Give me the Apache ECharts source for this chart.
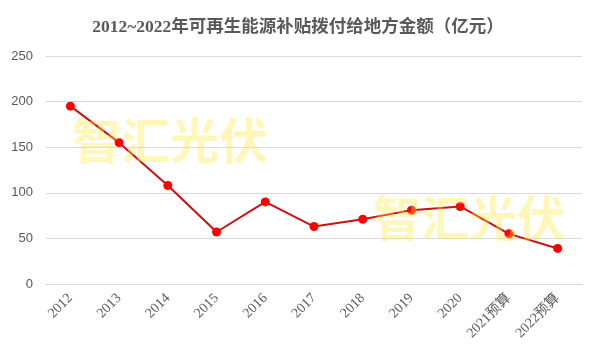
<!DOCTYPE html>
<html>
<head>
<meta charset="utf-8">
<script src="https://cdn.jsdelivr.net/npm/echarts@6/dist/echarts.min.js"></script>
<style>html,body{margin:0;padding:0;background:#fff;}#c{width:596px;height:362px;}</style>
</head>
<body>
<div id="c"></div>
<script>
var categories = ['2012','2013','2014','2015','2016','2017','2018','2019','2020','2021预算','2022预算'];
var values = [195, 155, 108, 57, 90, 63, 71, 81, 85, 55, 39];
var yTicks = [0, 50, 100, 150, 200, 250];
var titleText = '2012~2022年可再生能源补贴拨付给地方金额（亿元）';
var watermark = '智汇光伏';

var chart = echarts.init(document.getElementById('c'), null, {renderer: 'canvas'});
chart.setOption({
  backgroundColor: '#ffffff',
  animation: false,
  title: {
    text: titleText,
    left: 'center',
    top: 14,
    textStyle: {
      fontFamily: '"Liberation Serif", "Noto Sans CJK SC", serif',
      fontSize: 17.5,
      fontWeight: 'bold',
      color: '#595959'
    }
  },
  grid: {left: 46, right: 14, top: 56, bottom: 78, containLabel: false},
  xAxis: {
    type: 'category',
    data: categories,
    boundaryGap: true,
    axisLine: {show: true, lineStyle: {color: '#d9d9d9'}},
    axisTick: {show: false},
    axisLabel: {
      rotate: 45,
      interval: 0,
      margin: 12,
      color: '#595959',
      fontSize: 14,
      fontFamily: '"Liberation Serif", "Noto Sans CJK SC", serif'
    }
  },
  yAxis: {
    type: 'value',
    min: yTicks[0],
    max: yTicks[yTicks.length - 1],
    interval: 50,
    axisLine: {show: false},
    axisTick: {show: false},
    splitLine: {lineStyle: {color: '#d9d9d9', width: 1}},
    axisLabel: {
      margin: 13,
      color: '#595959',
      fontSize: 13,
      fontFamily: '"Liberation Sans", "Noto Sans", sans-serif'
    }
  },
  series: [{
    type: 'line',
    data: values,
    symbol: 'circle',
    symbolSize: 9,
    lineStyle: {color: '#cc1111', width: 2},
    itemStyle: {color: '#ff0000'},
    z: 2
  }],
  graphic: [
    {
      type: 'text', left: 72, top: 116, z: 100, silent: true,
      style: {
        text: watermark,
        font: 'bold 49px "Noto Sans CJK SC"',
        fill: 'rgba(255,232,60,0.36)'
      }
    },
    {
      type: 'text', left: 373, top: 194, z: 100, silent: true,
      style: {
        text: watermark,
        font: 'bold 48px "Noto Sans CJK SC"',
        fill: 'rgba(255,232,60,0.36)'
      }
    }
  ]
});
</script>
</body>
</html>
